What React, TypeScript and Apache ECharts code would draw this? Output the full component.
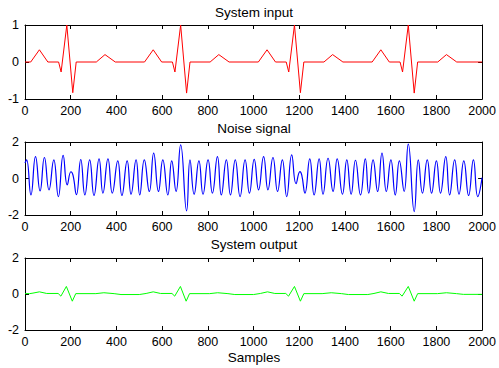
import React, { useEffect, useRef } from "react";
import * as echarts from "echarts";

const xTicks = { min: 0, max: 2000, interval: 200 };

const inputX = [0, 25, 63, 100, 147, 158, 183, 209, 224, 312, 350, 395,
  523, 561, 598, 645, 656, 681, 707, 722, 810, 848, 893,
  1021, 1059, 1096, 1143, 1154, 1179, 1205, 1220, 1308, 1346, 1391,
  1519, 1557, 1594, 1641, 1652, 1677, 1703, 1718, 1806, 1844, 1889, 2000];
const inputY = [0, 0, 0.33, 0, 0, -0.27, 1.0, -0.83, 0, 0, 0.2, 0,
  0, 0.33, 0, 0, -0.27, 1.0, -0.84, 0, 0, 0.2, 0,
  0, 0.33, 0, 0, -0.27, 1.0, -0.83, 0, 0, 0.2, 0,
  0, 0.33, 0, 0, -0.27, 1.0, -0.84, 0, 0, 0.2, 0, 0];

const noiseX = [0, 7, 26, 46, 66, 85, 105, 126, 146, 167, 185, 201, 210, 225, 244, 262, 283, 302, 324, 341, 363, 382, 406, 424, 447, 464, 486, 502, 522, 544, 563, 584, 603, 625, 642, 661, 681, 707, 722, 740, 761, 779, 801, 820, 842, 859, 881, 899, 920, 941, 963, 982, 1003,
  1022, 1044, 1063, 1085, 1105, 1126, 1145, 1167, 1186, 1203, 1211, 1225, 1246, 1265, 1287, 1304, 1326, 1348, 1366, 1389, 1408, 1427, 1446, 1468, 1489, 1504, 1523, 1543, 1562, 1581, 1601, 1620, 1638, 1659, 1677, 1703, 1721, 1739, 1760, 1779, 1800, 1818, 1841, 1858, 1880, 1899, 1920, 1941, 1962, 1981, 2000];
const noiseY = [0.85, 1.02, -0.9, 1.2, -0.68, 1.15, -0.62, 1.02, -0.99, 1.27, -0.35, 0.37, 0.18, -0.88, 1.04, -0.9, 1.02, -0.93, 1.08, -0.8, 1.08, -0.8, 0.97, -0.93, 0.97, -0.86, 1.02, -0.9, 1.02, -0.71, 1.39, -0.71, 1.02, -0.9, 0.97, -0.71, 1.84, -1.77, 1.02, -0.86, 0.97, -0.86, 1.02, -0.8, 1.2, -0.9, 1.02, -0.9, 1.02, -0.99, 1.02, -0.8, 1.05,
  -0.62, 1.2, -0.62, 1.15, -0.71, 1.02, -0.99, 1.3, -0.28, 0.38, 0.18, -0.8, 1.08, -0.9, 1.08, -0.86, 1.11, -0.71, 1.08, -0.86, 1.02, -0.86, 1.0, -0.9, 1.08, -0.8, 1.02, -0.71, 1.39, -0.71, 1.02, -0.9, 0.97, -0.71, 1.88, -1.81, 1.02, -0.8, 1.02, -0.8, 0.97, -0.8, 1.2, -0.9, 1.02, -0.86, 0.97, -0.93, 1.02, -0.99, 0.05];

const outputX = [0, 20, 35, 63, 95, 145, 157, 181, 207, 222, 310, 345, 390, 420, 500,
  530, 561, 593, 643, 655, 680, 705, 720, 808, 843, 888, 918, 1000,
  1030, 1061, 1093, 1141, 1153, 1179, 1205, 1220, 1300, 1340, 1385, 1415, 1500,
  1527, 1557, 1590, 1638, 1650, 1677, 1703, 1718, 1805, 1844, 1888, 1918, 2000];
const outputY = [0.02, 0.02, 0.05, 0.12, 0.03, 0.03, -0.12, 0.42, -0.4, 0.02, 0.02, 0.07, 0.02, -0.03, -0.03,
  0.03, 0.12, 0.03, 0.03, -0.12, 0.42, -0.4, 0.02, 0.02, 0.07, 0.02, -0.03, -0.03,
  0.03, 0.12, 0.03, 0.03, -0.12, 0.42, -0.4, 0.02, 0.02, 0.07, 0.02, -0.03, -0.03,
  0.03, 0.12, 0.03, 0.03, -0.12, 0.42, -0.4, 0.02, 0.02, 0.07, 0.02, -0.02, -0.02];

const titles = ["System input", "Noise signal", "System output"];
const xLabel = "Samples";
const yRanges = [
  { min: -1, max: 1, interval: 1 },
  { min: -2, max: 2, interval: 2 },
  { min: -2, max: 2, interval: 2 },
];

const zip = (xs: number[], ys: number[]) => xs.map((x, i) => [x, ys[i]]);

const FONT = "'Liberation Sans', Arial, Helvetica, sans-serif";

export default function App() {
  const ref = useRef<HTMLDivElement>(null);
  useEffect(() => {
    if (!ref.current) return;
    const chart = echarts.init(ref.current, undefined, { renderer: "svg" });
    const grids = [
      { top: 25, height: 74 },
      { top: 142, height: 73 },
      { top: 258, height: 72 },
    ];
    const tick = { inside: true, length: 4, lineStyle: { color: "#000", width: 1 } };
    const line = { show: true, onZero: false, lineStyle: { color: "#000", width: 1 } };
    const fmt = (v: number) => String(v);
    const xAxes: any[] = [];
    const yAxes: any[] = [];
    grids.forEach((_, i) => {
      xAxes.push({
        gridIndex: i, type: "value", ...xTicks, position: "bottom",
        axisLine: line, axisTick: tick, splitLine: { show: false },
        axisLabel: { color: "#000", fontSize: 12.5, fontFamily: FONT, margin: 5, formatter: fmt },
      });
      xAxes.push({
        gridIndex: i, type: "value", ...xTicks, position: "top",
        axisLine: line, axisTick: tick, splitLine: { show: false },
        axisLabel: { show: false },
      });
      yAxes.push({
        gridIndex: i, type: "value", ...yRanges[i], position: "left",
        axisLine: line, axisTick: tick, splitLine: { show: false },
        axisLabel: { color: "#000", fontSize: 12.5, fontFamily: FONT, margin: 6, formatter: fmt },
      });
      yAxes.push({
        gridIndex: i, type: "value", ...yRanges[i], position: "right",
        axisLine: line, axisTick: tick, splitLine: { show: false },
        axisLabel: { show: false },
      });
    });
    const titleY = [12, 128, 244];
    const textStyle = { fontSize: 13.5, fontFamily: FONT, fill: "#000", textAlign: "center", textVerticalAlign: "middle" };
    chart.setOption({
      animation: false,
      backgroundColor: "#fff",
      grid: grids.map((g) => ({ left: 25, right: 13, ...g })),
      xAxis: xAxes,
      yAxis: yAxes,
      graphic: [
        ...titles.map((t, i) => ({
          type: "text", x: 254, y: titleY[i],
          style: { text: t, ...textStyle },
        })),
        {
          type: "text", x: 254, y: 357,
          style: { text: xLabel, ...textStyle },
        },
      ],
      series: [
        {
          type: "line", xAxisIndex: 0, yAxisIndex: 0, data: zip(inputX, inputY),
          showSymbol: false, lineStyle: { color: "#ff0000", width: 1 },
        },
        {
          type: "line", xAxisIndex: 2, yAxisIndex: 2, data: zip(noiseX, noiseY),
          showSymbol: false, smooth: 0.5, lineStyle: { color: "#0000ff", width: 1.2 },
        },
        {
          type: "line", xAxisIndex: 4, yAxisIndex: 4, data: zip(outputX, outputY),
          showSymbol: false, lineStyle: { color: "#00ff00", width: 1 },
        },
      ],
    });
    return () => chart.dispose();
  }, []);
  return (
    <div
      ref={ref}
      style={{ position: "fixed", left: 0, top: 0, width: 499, height: 368, background: "#fff" }}
    />
  );
}
